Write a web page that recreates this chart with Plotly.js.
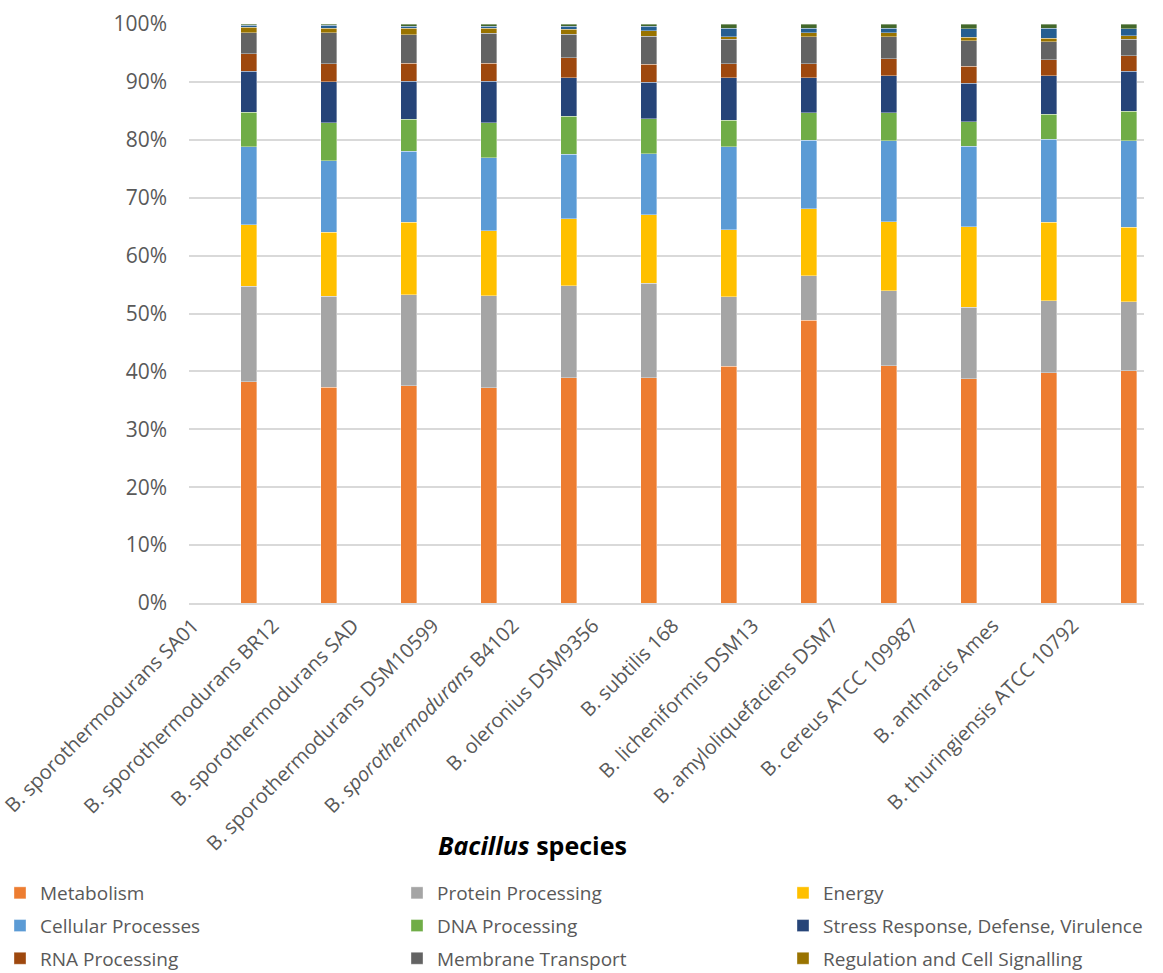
<!DOCTYPE html>
<html>
<head>
<meta charset="utf-8">
<script src="https://cdn.plot.ly/plotly-3.0.1.min.js"></script>
<style>
  html, body { margin: 0; padding: 0; background: #ffffff; }
  #chart { width: 1163px; height: 973px; }
</style>
</head>
<body>
<div id="chart"></div>
<script>
// Genomes compared (x axis, left to right)
const strains = [
  "B. sporothermodurans SA01",
  "B. sporothermodurans BR12",
  "B. sporothermodurans SAD",
  "B. sporothermodurans DSM10599",
  "B. <i>sporothermodurans</i> B4102",
  "B. oleronius DSM9356",
  "B. subtilis 168",
  "B. licheniformis DSM13",
  "B. amyloliquefaciens DSM7",
  "B. cereus ATCC 109987",
  "B. anthracis Ames",
  "B. thuringiensis ATCC 10792"
];

// Share of annotated subsystem features per category (%), one value per strain
const metabolism      = [38.2, 37.2, 37.6, 37.2, 38.9, 38.9, 40.9, 48.9, 40.9, 38.7, 39.8, 40.1];
const proteinProc     = [16.5, 15.7, 15.7, 15.9, 15.9, 16.4, 12.0,  7.7, 13.0, 12.4, 12.4, 11.9];
const energy          = [10.6, 11.1, 12.5, 11.3, 11.6, 11.8, 11.6, 11.6, 11.9, 13.9, 13.6, 12.9];
const cellularProc    = [13.5, 12.3, 12.3, 12.6, 11.1, 10.6, 14.3, 11.8, 14.0, 13.9, 14.3, 14.9];
const dnaProc         = [ 6.0,  6.6,  5.5,  6.0,  6.6,  6.0,  4.6,  4.8,  4.8,  4.2,  4.3,  5.1];
const stress          = [ 7.0,  7.0,  6.6,  7.2,  6.6,  6.3,  7.3,  6.0,  6.4,  6.7,  6.7,  6.9];
const rnaProc         = [ 3.1,  3.1,  3.1,  3.1,  3.5,  3.1,  2.4,  2.4,  2.9,  2.9,  2.7,  2.7];
const membrane        = [ 3.6,  5.4,  4.9,  5.2,  4.0,  4.9,  4.3,  4.7,  3.8,  4.4,  3.1,  2.9];
const regulation      = [ 0.9,  0.8,  1.2,  0.9,  0.9,  0.9,  0.4,  0.7,  0.7,  0.6,  0.6,  0.6];
const cellEnvelope    = [ 0.4,  0.5,  0.3,  0.3,  0.5,  0.8,  1.5,  0.8,  0.8,  1.5,  1.8,  1.2];
const miscellaneous   = [ 0.2,  0.2,  0.4,  0.4,  0.4,  0.4,  0.7,  0.7,  0.7,  0.8,  0.7,  0.8];

const seriesNames = [
  "Metabolism", "Protein Processing", "Energy",
  "Cellular Processes", "DNA Processing", "Stress Response, Defense, Virulence",
  "RNA Processing", "Membrane Transport", "Regulation and Cell Signalling",
  "Cell Envelope", "Miscellaneous"
];
const seriesValues = [
  metabolism, proteinProc, energy, cellularProc, dnaProc, stress,
  rnaProc, membrane, regulation, cellEnvelope, miscellaneous
];
const seriesColors = [
  "#ED7D31", "#A5A5A5", "#FFC000", "#5B9BD5", "#70AD47", "#264478",
  "#9E480E", "#636363", "#997300", "#255E91", "#43682B"
];
// legend block is laid out in three columns, filled row by row
const legendColumn = ["legend", "legend2", "legend3", "legend", "legend2", "legend3",
                      "legend", "legend2", "legend3", null, null];

const traces = seriesNames.map((name, i) => {
  const t = {
    type: "bar",
    name: name,
    x: strains,
    y: seriesValues[i],
    width: 0.2,
    legendgroup: "g" + i,
    showlegend: legendColumn[i] !== null,
    marker: { color: seriesColors[i], line: { color: "rgba(255,255,255,0.6)", width: 0.6 } },
    hovertemplate: "%{x}<br>" + name + ": %{y:.1f}%<extra></extra>"
  };
  if (legendColumn[i]) t.legend = legendColumn[i];
  return t;
});

const fontFamily = "Open Sans, DejaVu Sans, sans-serif";
const xTickFont = { family: fontFamily, size: 20, color: "#595959" };
const yTickFont = { family: fontFamily, size: 21, color: "#595959" };
const legendFont = { family: fontFamily, size: 19, color: "#595959" };

function legendAt(xPx) {
  return {
    orientation: "v",
    xref: "container",
    yref: "container",
    x: xPx / 1163,
    y: 1 - 874 / 973,
    xanchor: "left",
    yanchor: "top",
    traceorder: "grouped",
    tracegroupgap: 5,
    font: legendFont,
    bgcolor: "rgba(0,0,0,0)"
  };
}

const layout = {
  width: 1163,
  height: 973,
  margin: { l: 189, r: 19, t: 24, b: 370, autoexpand: false },
  paper_bgcolor: "#ffffff",
  plot_bgcolor: "#ffffff",
  barmode: "stack",
  barnorm: "percent",
  showlegend: true,
  xaxis: {
    type: "category",
    range: [-0.75, 11.19],
    tickangle: -45,
    ticks: "",
    ticklabelshift: -56,
    ticklabelstandoff: 1,
    tickfont: xTickFont,
    showgrid: false,
    showline: true,
    linecolor: "#d9d9d9",
    linewidth: 2,
    zeroline: false,
    automargin: false
  },
  yaxis: {
    range: [0, 100],
    dtick: 10,
    ticksuffix: "%",
    ticks: "",
    ticklabelstandoff: 21,
    tickfont: yTickFont,
    showgrid: true,
    gridcolor: "#d9d9d9",
    gridwidth: 2,
    zeroline: false,
    showline: false,
    automargin: false
  },
  legend: legendAt(0),
  legend2: legendAt(397),
  legend3: legendAt(783),
  annotations: [
    {
      // category axis title
      text: "<b><i>Bacillus</i> species</b>",
      xref: "paper", yref: "paper",
      x: (532 - 189) / 955, y: -(845 - 603) / 579,
      xanchor: "center", yanchor: "middle",
      showarrow: false,
      font: { family: fontFamily, size: 25, color: "#000000" }
    }
  ],
  shapes: [
    // break in the category baseline between the two groups of bars
    { type: "rect", xref: "x", yref: "y", x0: 3.39, x1: 3.74, y0: -0.6, y1: 0.6,
      fillcolor: "#ffffff", line: { width: 0 }, layer: "above" }
  ]
};

Plotly.newPlot("chart", traces, layout, { displayModeBar: false });
</script>
</body>
</html>
